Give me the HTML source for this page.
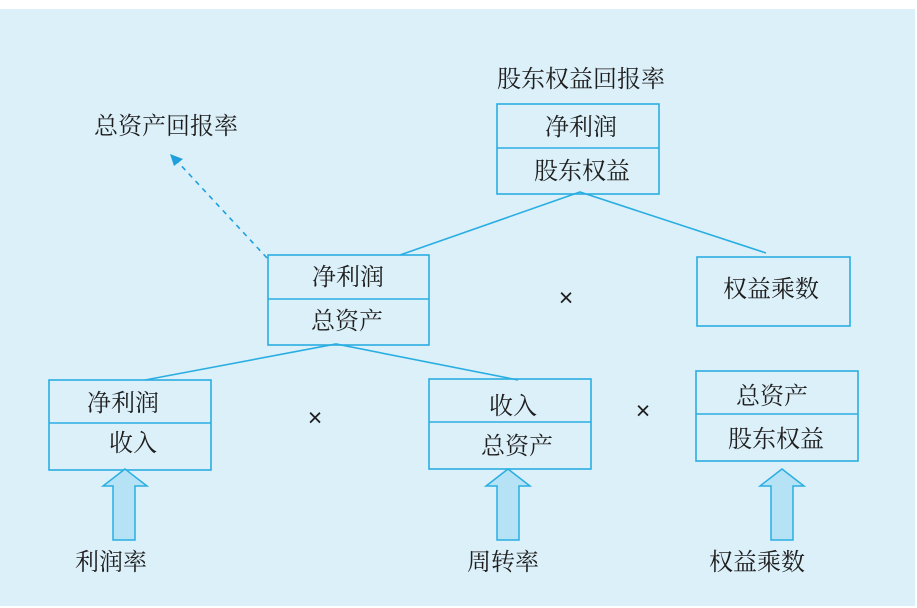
<!DOCTYPE html>
<html><head><meta charset="utf-8"><style>
html,body{margin:0;padding:0;background:#fff;}
svg{display:block;}
text{font-family:"Liberation Serif","Noto Serif CJK SC","Noto Sans CJK SC",serif;font-size:24px;fill:#1e1e1e;}
</style></head><body>
<svg width="917" height="608" viewBox="0 0 917 608" xmlns="http://www.w3.org/2000/svg">
<rect x="0" y="9" width="915" height="597" fill="#dcf0f9"/>
<g fill="none" stroke="#2aaee2" stroke-width="1.6">
<rect x="497" y="104" width="162" height="90"/>
<line x1="497" y1="148" x2="659" y2="148"/>
<rect x="268" y="255" width="161" height="90"/>
<line x1="268" y1="299" x2="429" y2="299"/>
<rect x="697" y="257" width="153" height="69"/>
<rect x="49" y="380" width="162" height="90"/>
<line x1="49" y1="423" x2="211" y2="423"/>
<rect x="429" y="379" width="162" height="90"/>
<line x1="429" y1="422" x2="591" y2="422"/>
<rect x="696" y="371" width="162" height="90"/>
<line x1="696" y1="414" x2="858" y2="414"/>
<polyline points="400,255 580,192 766,253"/>
<polyline points="145,380 336,344 518,380"/>
<line x1="267" y1="258" x2="176" y2="160" stroke-dasharray="5,5" stroke="#1fa0dc"/>
</g>
<polygon points="170,154 183,159 174,166" fill="#1fa0dc"/>
<g fill="#b5e2f5" stroke="#2aaee2" stroke-width="1.5">
<polygon points="125,469 147,486 135,486 135,540 113,540 113,486 103,486"/>
<polygon points="508,469 530,486 519,486 519,540 497,540 497,486 486,486"/>
<polygon points="782,469 804,486 793,486 793,540 771,540 771,486 760,486"/>
</g>
<g text-anchor="middle" dominant-baseline="central">
<text x="581" y="80">股东权益回报率</text>
<text x="581" y="128">净利润</text>
<text x="582" y="172">股东权益</text>
<text x="166" y="127">总资产回报率</text>
<text x="348" y="278">净利润</text>
<text x="347" y="322">总资产</text>
<text x="771" y="290">权益乘数</text>
<text x="123" y="404">净利润</text>
<text x="133" y="444">收入</text>
<text x="513" y="407">收入</text>
<text x="517" y="447">总资产</text>
<text x="772" y="397">总资产</text>
<text x="776" y="440">股东权益</text>
<text x="111" y="563">利润率</text>
<text x="503" y="563">周转率</text>
<text x="757" y="563">权益乘数</text>
<text x="566" y="298" style="font-family:'Liberation Sans',sans-serif;font-size:25px">×</text>
<text x="315" y="418" style="font-family:'Liberation Sans',sans-serif;font-size:25px">×</text>
<text x="643" y="411" style="font-family:'Liberation Sans',sans-serif;font-size:25px">×</text>
</g>
</svg>
</body></html>
